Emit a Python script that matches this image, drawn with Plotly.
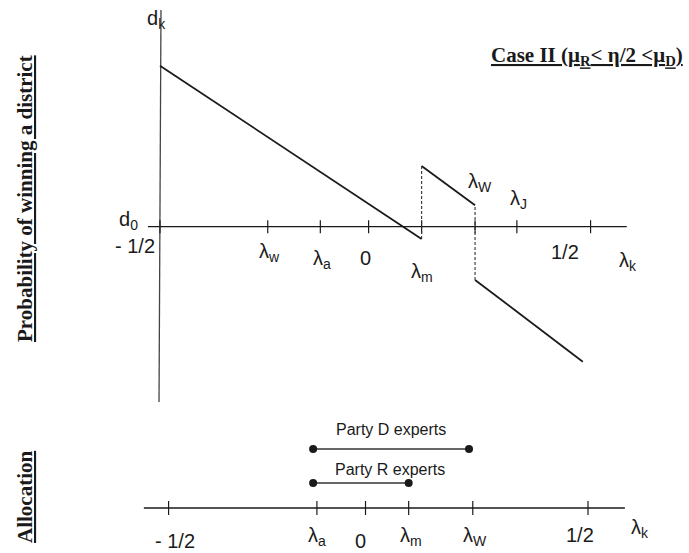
import plotly.graph_objects as go

# ---------------- data (schematic values) ----------------
# Top panel: x in lambda units, y in d units (d0 = 0)
top_tick_pos = [-0.5, -0.250, -0.128, -0.016, 0.107, 0.231, 0.328, 0.499]
top_tick_labels = ["- 1/2", "λ<sub>w</sub>", "λ<sub>a</sub>", "0", "λ<sub>m</sub>",
                   "λ<sub>W</sub>", "λ<sub>J</sub>", "1/2"]
top_label_x = [-0.558, -0.245, -0.124, -0.024, 0.108, 0.243, 0.331, 0.439]
top_label_y = [-0.19, -0.26, -0.33, -0.31, -0.46, 0.44, 0.27, -0.25]

seg1_x, seg1_d = [-0.5, 0.107], [1.61, -0.123]
seg2_x, seg2_d = [0.107, 0.231], [0.607, 0.214]
seg3_x, seg3_d = [0.231, 0.481], [-0.533, -1.35]
jump_x = [0.107, 0.231]
jump_lo = [-0.123, -0.533]
jump_hi = [0.607, 0.214]

top_axis_x = [-0.528, 0.583]
vert_axis_x = [-0.4977, -0.5023]
vert_axis_d = [2.167, -1.753]

# Bottom panel: x in lambda units, y in rows above the axis
bot_tick_pos = [-0.501, -0.147, -0.031, 0.072, 0.225, 0.500]
bot_tick_labels = ["- 1/2", "λ<sub>a</sub>", "0", "λ<sub>m</sub>", "λ<sub>W</sub>", "1/2"]
bot_label_x = [-0.485, -0.147, -0.044, 0.077, 0.230, 0.481]
bot_label_y = [-33, -28, -33, -28, -28, -27]
bot_axis_x = [-0.560, 0.588]

party_names = ["Party D experts", "Party R experts"]
party_start = [-0.156, -0.156]
party_end = [0.216, 0.072]
party_row = [59, 25]
party_label_x = [0.031, 0.028]
party_label_row = [79, 39]

# ---------------- figure ----------------
W, H = 689, 553
SANS = "Liberation Sans, Arial, sans-serif"
SERIF = "Liberation Serif, Times New Roman, serif"
INK = "#1a1a1a"

fig = go.Figure()

def line(x, y, xa="x", ya="y", color=INK, width=1.6, dash="solid"):
    fig.add_trace(go.Scatter(x=x, y=y, mode="lines", xaxis=xa, yaxis=ya,
                             line=dict(color=color, width=width, dash=dash),
                             hoverinfo="skip", showlegend=False))

# top panel axes
line(top_axis_x, [0, 0], width=1.3)
line(vert_axis_x, vert_axis_d, color="#444", width=1.3)
tx, ty = [], []
for p in top_tick_pos:
    tx += [p, p, None]
    ty += [-0.065, 0.065, None]
line(tx, ty, width=1.2)

# top panel curve
line(seg1_x, seg1_d, width=1.8)
line(seg2_x, seg2_d, width=1.8)
line(seg3_x, seg3_d, width=1.8)
for jx, lo, hi in zip(jump_x, jump_lo, jump_hi):
    line([jx, jx], [lo, hi], color="#333", width=1.1, dash="3px,2px")

# bottom panel axis
line(bot_axis_x, [0, 0], xa="x2", ya="y2", width=1.3)
bx, by = [], []
for p in bot_tick_pos:
    bx += [p, p, None]
    by += [-7, 7, None]
line(bx, by, xa="x2", ya="y2", width=1.2)

# bottom panel intervals
for s, e, r in zip(party_start, party_end, party_row):
    fig.add_trace(go.Scatter(x=[s, e], y=[r, r], mode="lines+markers", xaxis="x2", yaxis="y2",
                             line=dict(color="#333", width=1.6),
                             marker=dict(color=INK, size=8),
                             hoverinfo="skip", showlegend=False))

ann = []
def label(x, y, t, xref, yref, size=20, family=SANS, angle=0):
    ann.append(dict(x=x, y=y, xref=xref, yref=yref, text=t, showarrow=False,
                    xanchor="center", yanchor="middle", textangle=angle,
                    font=dict(family=family, size=size, color=INK)))

# tick labels top
for x, y, t in zip(top_label_x, top_label_y, top_tick_labels):
    label(x, y, t, "x", "y")
label(-0.509, 2.07, "d<sub>k</sub>", "x", "y")
label(-0.572, 0.06, "d<sub>0</sub>", "x", "y")
label(0.586, -0.35, "λ<sub>k</sub>", "x", "y")

# tick labels bottom
for x, y, t in zip(bot_label_x, bot_label_y, bot_tick_labels):
    label(x, y, t, "x2", "y2")
label(0.623, -20, "λ<sub>k</sub>", "x2", "y2")

for x, y, t in zip(party_label_x, party_label_row, party_names):
    label(x, y, t, "x2", "y2", size=16)

# title and side labels
label(587 / W, 1 - 56 / H, "<u><b>Case II (μ<sub>R</sub>< η/2 <μ<sub>D</sub>)</b></u>",
      "paper", "paper", size=21, family=SERIF)
label(25 / W, 1 - 199 / H, "<u><b>Probability of winning a district</b></u>",
      "paper", "paper", size=21, family=SERIF, angle=-90)
label(25 / W, 1 - 497 / H, "<u><b>Allocation</b></u>",
      "paper", "paper", size=21, family=SERIF, angle=-90)

# axis ranges so that the schematic sits where the picture has it
x1_scale, x1_off = 431.0, 375.5
y1_scale, y1_off = 100.0, 226.7
x2_scale, x2_off = 419.0, 378.5
y2_off = 508.0

fig.update_layout(
    width=W, height=H, autosize=False,
    margin=dict(l=0, r=0, t=0, b=0),
    paper_bgcolor="white", plot_bgcolor="rgba(0,0,0,0)",
    showlegend=False,
    xaxis=dict(range=[-x1_off / x1_scale, (W - x1_off) / x1_scale], visible=False,
               domain=[0, 1], anchor="y", fixedrange=True),
    yaxis=dict(range=[(y1_off - H) / y1_scale, y1_off / y1_scale], visible=False,
               domain=[0, 1], anchor="x", fixedrange=True),
    xaxis2=dict(range=[-x2_off / x2_scale, (W - x2_off) / x2_scale], visible=False,
                domain=[0, 1], anchor="y2", fixedrange=True),
    yaxis2=dict(range=[y2_off - H, y2_off], visible=False,
                domain=[0, 1], anchor="x2", fixedrange=True),
    annotations=ann,
)

fig.write_html("out.html")
